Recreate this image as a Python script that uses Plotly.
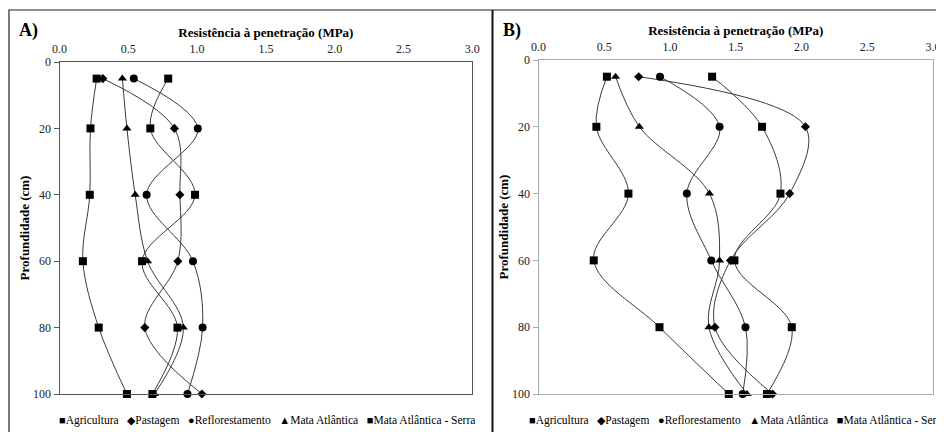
import plotly.graph_objects as go

# ---------------- data ----------------
depth = [5, 20, 40, 60, 80, 100]
series_names = ["Agricultura", "Pastagem", "Reflorestamento", "Mata Atlântica", "Mata Atlântica - Serra"]

# Panel A (MPa)
a_agricultura = [0.27, 0.225, 0.22, 0.17, 0.285, 0.49]
a_pastagem = [0.315, 0.835, 0.875, 0.86, 0.62, 1.035]
a_reflorestamento = [0.54, 1.005, 0.633, 0.97, 1.04, 0.93]
a_mata = [0.457, 0.49, 0.55, 0.64, 0.90, 0.69]
a_serra = [0.79, 0.66, 0.985, 0.60, 0.857, 0.675]

# Panel B (MPa)
b_agricultura = [0.52, 0.44, 0.684, 0.42, 0.92, 1.447]
b_pastagem = [0.762, 2.03, 1.91, 1.46, 1.342, 1.78]
b_reflorestamento = [0.924, 1.377, 1.128, 1.314, 1.574, 1.553]
b_mata = [0.586, 0.767, 1.30, 1.377, 1.296, 1.586]
b_serra = [1.32, 1.70, 1.84, 1.49, 1.926, 1.737]

x_ticks = [0.0, 0.5, 1.0, 1.5, 2.0, 2.5, 3.0]
y_ticks = [0, 20, 40, 60, 80, 100]

panel_a = [a_agricultura, a_pastagem, a_reflorestamento, a_mata, a_serra]
panel_b = [b_agricultura, b_pastagem, b_reflorestamento, b_mata, b_serra]

# ---------------- style ----------------
OFF = 8                      # page body margin
W, H = 944 - OFF, 432 - OFF
FONT = "Liberation Serif, Times New Roman, serif"
symbols = ["square", "diamond", "circle", "triangle-up", "square"]
sizes = [8, 7, 8, 8, 8]
legend_glyphs = ["■", "◆", "●", "▲", "■"]

def px(x):
    return (x - OFF) / W

def py(y):
    return 1 - (y - OFF) / H

fig = go.Figure()

for vals, (xa, ya) in ((panel_a, ("x", "y")), (panel_b, ("x2", "y2"))):
    for name, v, sym, sz in zip(series_names, vals, symbols, sizes):
        fig.add_trace(go.Scatter(
            x=v, y=depth, name=name, mode="lines+markers",
            line=dict(color="#3a3a3a", width=1, shape="spline", smoothing=1.0),
            marker=dict(symbol=sym, size=sz, color="black"),
            xaxis=xa, yaxis=ya, showlegend=False, cliponaxis=False,
        ))

def xaxis_cfg(domain, linecolor):
    return dict(
        domain=domain, range=[0, 3], side="top", tickvals=x_ticks,
        ticktext=[f"{t:.1f}" for t in x_ticks], automargin=False,
        showline=True, linecolor=linecolor, linewidth=1, mirror=True,
        showgrid=False, zeroline=False, ticks="outside", ticklen=3, tickcolor="white",
        tickfont=dict(family=FONT, size=12, color="#222"),
        title=dict(text="<b>Resistência à penetração (MPa)</b>",
                   font=dict(family=FONT, size=13, color="black"), standoff=1),
    )

def yaxis_cfg(domain, linecolor, anchor):
    return dict(
        domain=domain, range=[100, 0], tickvals=y_ticks, automargin=False,
        showline=True, linecolor=linecolor, linewidth=1, mirror=True,
        showgrid=False, zeroline=False, ticks="outside", ticklen=5, tickcolor=linecolor,
        tickfont=dict(family=FONT, size=12, color="#222"), anchor=anchor,
        title=dict(text="<b>Profundidade (cm)</b>",
                   font=dict(family=FONT, size=13, color="black"), standoff=0),
    )

fig.update_layout(
    width=W, height=H, margin=dict(l=0, r=0, t=0, b=0),
    paper_bgcolor="white", plot_bgcolor="white",
    font=dict(family=FONT, color="black"),
    xaxis=dict(**xaxis_cfg([px(59.5), px(472.3)], "#555"), anchor="y"),
    yaxis=yaxis_cfg([py(394), py(62)], "#555", "x"),
    xaxis2=dict(**xaxis_cfg([px(538.5), px(933)], "#aaa"), anchor="y2"),
    yaxis2=yaxis_cfg([py(394), py(60)], "#aaa", "x2"),
    showlegend=False,
)

# panel frames
fig.add_shape(type="rect", xref="paper", yref="paper",
              x0=px(9), x1=px(940), y0=py(434), y1=py(10),
              line=dict(color="#222", width=1.2))
fig.add_shape(type="line", xref="paper", yref="paper",
              x0=px(492.5), x1=px(492.5), y0=py(434), y1=py(10),
              line=dict(color="#111", width=2))

# panel labels
fig.add_annotation(text="<b>A)</b>", x=px(17), y=py(31), xref="paper", yref="paper",
                   xanchor="left", yanchor="middle", showarrow=False,
                   font=dict(family=FONT, size=18, color="black"))
fig.add_annotation(text="<b>B)</b>", x=px(501), y=py(30), xref="paper", yref="paper",
                   xanchor="left", yanchor="middle", showarrow=False,
                   font=dict(family=FONT, size=18, color="black"))

# legends (one per panel)
sep = "\u00a0\u00a0\u00a0"
legend_text = sep.join(f"<span style='font-size:11px'>{g}</span>{n}"
                       for g, n in zip(legend_glyphs, series_names))
for cx in (267, 737):
    fig.add_annotation(text=legend_text, x=px(cx), y=py(420), xref="paper", yref="paper",
                       xanchor="center", yanchor="middle", showarrow=False,
                       font=dict(family=FONT, size=11.5, color="black"))

fig.write_html("out.html")
